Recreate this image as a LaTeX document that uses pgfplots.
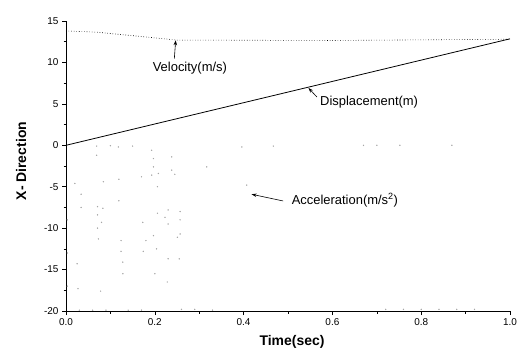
\documentclass[border=0pt]{standalone}
\usepackage{pgfplots}
\pgfplotsset{compat=1.18}
\usepackage{fontspec}
\setmainfont{Liberation Sans}
\usetikzlibrary{arrows.meta}
\begin{document}
\begin{tikzpicture}[x=1bp,y=1bp]
\useasboundingbox (0,0) rectangle (520,354);
\begin{axis}[
  at={(66bp,43bp)}, anchor=south west,
  width=444bp, height=290bp, scale only axis,
  xmin=0, xmax=1, ymin=-20, ymax=15,
  axis x line*=bottom, axis y line*=left,
  axis line style={-, line width=0.8pt},
  xtick={0,0.2,0.4,0.6,0.8,1.0},
  ytick={-20,-15,-10,-5,0,5,10,15},
  minor xtick={0.1,0.3,0.5,0.7,0.9},
  minor ytick={-17.5,-12.5,-7.5,-2.5,2.5,7.5,12.5},
  tick align=outside,
  major tick length=4bp, minor tick length=2.5bp,
  tick style={black, line width=0.6pt},
  xticklabel style={/pgf/number format/.cd, fixed, fixed zerofill, precision=1},
  /pgf/number format/assume math mode=true,
  ticklabel style={font=\fontsize{10}{12}\selectfont},
  xlabel={\bfseries Time(sec)},
  ylabel={\bfseries X- Direction},
  label style={font=\fontsize{14}{16}\selectfont},
  xlabel style={at={(axis description cs:0.509,-0.107)}, anchor=center},
  ylabel style={at={(axis description cs:-0.101,0.517)}, anchor=center},
  clip=false,
]
% Displacement
\addplot[black, line width=0.8pt] coordinates {(0,0) (1.0,12.85)};
% Velocity
\addplot[black, dotted, line width=0.6pt] coordinates {(0,13.8) (0.07,13.65) (0.25,12.7) (0.6,12.65) (1.0,12.8)};
% Acceleration (faint scattered dots)
\addplot[only marks, mark=*, mark size=0.45pt, gray!70, draw=none] coordinates {
(0.02,-4.6) (0.034,-5.9) (0.034,-7.5) (0.025,-14.3) (0.027,-17.3) (0.078,-17.6)
(0.071,-7.4) (0.071,-8.4) (0.071,-10) (0.073,-11.3) (0.083,-7.6) (0.08,-9.3)
(0.084,-4.4) (0.119,-4.1) (0.119,-6.7) (0.124,-11.5) (0.124,-12.8) (0.128,-14.1)
(0.128,-15.5) (0.17,-3.8) (0.173,-9.3) (0.174,-12.8) (0.18,-11.5) (0.193,-3.6)
(0.197,-10.9) (0.2,-15.5) (0.206,-8.2) (0.204,-12.5) (0.206,-5.0) (0.208,-3.4)
(0.223,-8.7) (0.23,-7.8) (0.23,-9.5) (0.23,-13.7) (0.228,-16.5) (0.238,-3.0)
(0.245,-3.5) (0.251,-11.1) (0.257,-10.7) (0.257,-8.0) (0.257,-9.0) (0.255,-13.7)
(0.407,-4.8) (0.069,-0.1) (0.069,-1.2) (0.193,-0.6) (0.197,-1.6) (0.197,-2.6)
(0.238,-1.4) (0.317,-2.6) (0.396,-0.2) (0.118,-0.2) (0.467,-0.1) (0.67,0)
(0.70,0) (0.752,0) (0.869,0) (0.1,-0.05) (0.15,-0.1)
(0.03,-19.9) (0.06,-19.9) (0.09,-19.9) (0.14,-19.9) (0.17,-19.9) (0.26,-19.8)
(0.29,-19.8) (0.33,-19.9) (0.72,-19.8) (0.76,-19.8) (0.8,-19.8) (0.84,-19.8)
(0.88,-19.8) (0.92,-19.8) (0.003,-17) (0.003,-13) (0.003,-9)
};
% Annotations
\node[anchor=center, font=\fontsize{13}{15}\selectfont] at (axis cs:0.279,9.26) {Velocity(m/s)};
\draw[-{Stealth[length=5bp,width=3.5bp]}, line width=0.6pt] (axis cs:0.244,10.46) -- (axis cs:0.247,12.67);
\node[anchor=west, font=\fontsize{13}{15}\selectfont, inner sep=0pt] at (axis cs:0.572,5.23) {Displacement(m)};
\draw[-{Stealth[length=5bp,width=3.5bp]}, line width=0.6pt] (axis cs:0.565,5.83) -- (axis cs:0.546,6.92);
\node[anchor=west, font=\fontsize{13}{15}\selectfont, inner sep=0pt] at (axis cs:0.508,-6.64) {Acceleration(m/s\textsuperscript{2})};
\draw[-{Stealth[length=5bp,width=3.5bp]}, line width=0.6pt] (axis cs:0.489,-6.72) -- (axis cs:0.418,-5.91);
\end{axis}
\end{tikzpicture}
\end{document}
